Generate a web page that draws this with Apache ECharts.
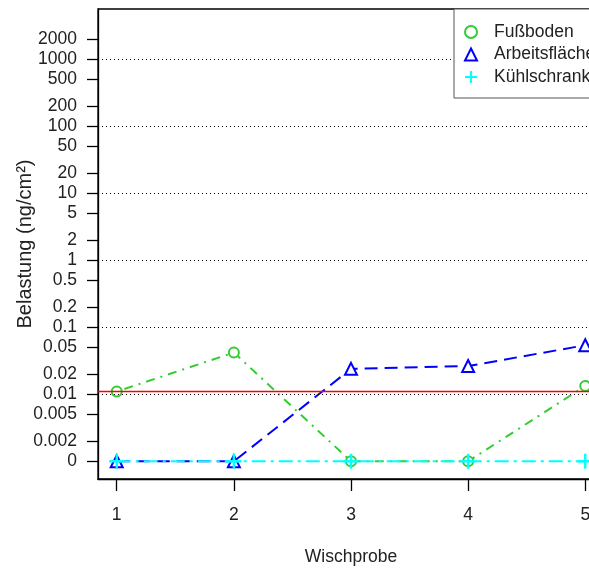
<!DOCTYPE html>
<html>
<head>
<meta charset="utf-8">
<script src="https://cdn.jsdelivr.net/npm/echarts@6/dist/echarts.min.js"></script>
<style>html,body{margin:0;padding:0;background:#fff}#c{width:589px;height:570px}</style>
</head>
<body>
<div id="c"></div>
<script>
const xValues = [1, 2, 3, 4, 5];
const fussboden = [0.011, 0.042, 0, 0, 0.0133];
const arbeitsflaechen = [0, 0, 0.024, 0.0264, 0.054];
const kuehlschrank = [0, 0, 0, 0, 0];
const yTickValues = [0, 0.002, 0.005, 0.01, 0.02, 0.05, 0.1, 0.2, 0.5, 1, 2, 5, 10, 20, 50, 100, 200, 500, 1000, 2000];
const yTickLabels = ["0", "0.002", "0.005", "0.01", "0.02", "0.05", "0.1", "0.2", "0.5", "1", "2", "5", "10", "20", "50", "100", "200", "500", "1000", "2000"];
const gridLineValues = [0.01, 0.1, 1, 10, 100, 1000];
const limitValue = 0.011;
const seriesNames = ["Fußboden", "Arbeitsflächen", "Kühlschrank"];
const ZERO_POS = 0.001; // where zero is drawn on the log scale

function tr(v) { return Math.log10(v === 0 ? ZERO_POS : v); }
const yTickPos = yTickValues.map(tr);
function yLabel(val) {
  for (let i = 0; i < yTickPos.length; i++) {
    if (Math.abs(yTickPos[i] - val) < 1e-6) return yTickLabels[i];
  }
  return '';
}
function pts(arr) { return arr.map((v, i) => [xValues[i], tr(v)]); }

const FONT = 'Liberation Sans, Arial, sans-serif';
const plusPath = 'path://M4.2,0h1.6v10h-1.6z M0,4.2h10v1.6h-10z';

const chart = echarts.init(document.getElementById('c'), null, {renderer: 'canvas'});
chart.setOption({
  animation: false,
  backgroundColor: '#fff',
  textStyle: {fontFamily: FONT},
  grid: {left: 98, top: 9, bottom: 91, right: -15, containLabel: false, outerBoundsMode: 'none',
         show: true, borderColor: '#000', borderWidth: 1.3, backgroundColor: 'transparent'},
  xAxis: {
    type: 'value', min: 0.84, max: 5.16,
    splitLine: {show: false},
    axisLine: {onZero: false, lineStyle: {color: '#000', width: 1.3}},
    axisTick: {customValues: xValues, length: 12, lineStyle: {color: '#000', width: 1.3}},
    axisLabel: {customValues: xValues, margin: 27, fontSize: 17.5, color: '#222', fontFamily: FONT},
    name: 'Wischprobe', nameLocation: 'middle', nameGap: 69, nameMoveOverlap: false,
    nameTextStyle: {fontSize: 17.5, color: '#222', fontFamily: FONT}
  },
  yAxis: {
    type: 'value', min: -3.264, max: 3.75,
    splitLine: {show: false},
    axisLine: {onZero: false, lineStyle: {color: '#000', width: 1.3}},
    axisTick: {customValues: yTickPos, length: 11, lineStyle: {color: '#000', width: 1.3}},
    axisLabel: {customValues: yTickPos, margin: 21, fontSize: 17.5, color: '#222', fontFamily: FONT, hideOverlap: false, formatter: yLabel},
    name: 'Belastung (ng/cm²)', nameLocation: 'middle', nameGap: 63, nameRotate: 90, nameMoveOverlap: false,
    nameTextStyle: {fontSize: 20, color: '#222', fontFamily: FONT}
  },
  legend: {
    orient: 'vertical', left: 454, top: 9,
    padding: [13, 40, 11, 10],
    itemGap: 2.5, itemWidth: 12, itemHeight: 12,
    backgroundColor: '#fff', borderColor: '#555', borderWidth: 1,
    textStyle: {fontSize: 17.5, color: '#222', fontFamily: FONT, lineHeight: 20, padding: [0, 0, 0, 12]},
    data: [
      {name: seriesNames[0], icon: 'emptyCircle'},
      {name: seriesNames[1], icon: 'emptyTriangle'},
      {name: seriesNames[2], icon: plusPath}
    ],
    z: 10
  },
  series: [
    {
      type: 'line', name: 'grid', silent: true, data: [], z: 1,
      markLine: {
        silent: true, symbol: 'none', label: {show: false}, animation: false,
        data: gridLineValues.map(v => ({yAxis: tr(v), lineStyle: {color: '#000', type: [1, 3], width: 1.2}}))
          .concat([{yAxis: tr(limitValue), lineStyle: {color: '#ff0000', type: 'solid', width: 1.3}}])
      }
    },
    {
      type: 'line', name: seriesNames[0], data: pts(fussboden), z: 3,
      color: '#33CC33', symbol: 'emptyCircle', symbolSize: 10,
      itemStyle: {color: '#33CC33', borderWidth: 1.8},
      lineStyle: {color: '#33CC33', width: 2, type: [2, 6, 9, 6]}
    },
    {
      type: 'line', name: seriesNames[1], data: pts(arbeitsflaechen), z: 4,
      color: '#0000FF', symbol: 'emptyTriangle', symbolSize: 12,
      itemStyle: {color: '#0000FF', borderWidth: 1.8},
      lineStyle: {color: '#0000FF', width: 2, type: [13, 7]}
    },
    {
      type: 'line', name: seriesNames[2], data: pts(kuehlschrank), z: 5,
      color: '#00FFFF', symbol: plusPath, symbolSize: 15,
      itemStyle: {color: '#00FFFF'},
      lineStyle: {color: '#00FFFF', width: 2, type: [14, 5, 3, 5]}
    }
  ]
});
</script>
</body>
</html>
